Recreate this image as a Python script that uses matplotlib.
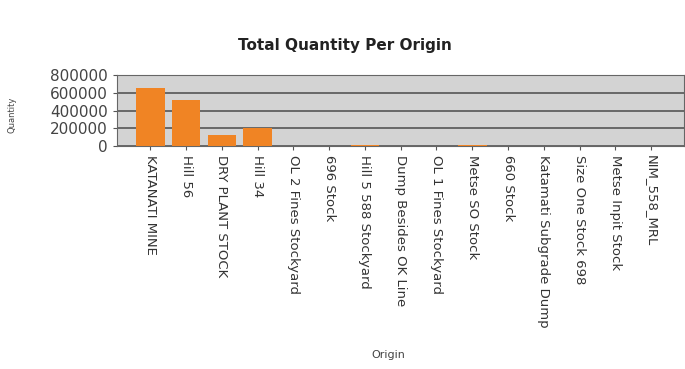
import matplotlib.pyplot as plt
import numpy as np

origins = ['KATANATI MINE', 'Hill 56', 'DRY PLANT STOCK', 'Hill 34',
           'OL 2 Fines Stockyard', '696 Stock', 'Hill 5 588 Stockyard',
           'Dump Besides OK Line', 'OL 1 Fines Stockyard', 'Metse SO Stock',
           '660 Stock', 'Katamati Subgrade Dump', 'Size One Stock 698',
           'Metse Inpit Stock', 'NIM_558_MRL']
quantity = [650000, 518000, 124000, 199000, 0, 0, 9000,
            0, 0, 12000, 0, 0, 0, 0, 0]
yticks = [0, 200000, 400000, 600000, 800000]

fig = plt.figure(figsize=(6.85, 3.69), dpi=100)
ax = fig.add_axes([0.171, 0.604, 0.828, 0.193])
ax.set_facecolor('#d3d3d3')

x = np.arange(len(origins))
ax.bar(x, quantity, width=0.8, color='#f08424', zorder=3)

ax.set_xlim(-0.93, len(origins) - 0.07)
ax.set_ylim(0, 800000)
ax.set_yticks(yticks)
ax.set_yticklabels([str(v) for v in yticks], fontsize=11, color='#444444')
ax.yaxis.grid(True, color='#555555', lw=1.2, zorder=1)
ax.set_xticks(x)
ax.set_xticklabels(origins, rotation=270, fontsize=9.5, color='#333333')
ax.tick_params(axis='both', length=3, color='#555555')
for s in ax.spines.values():
    s.set_color('#666666')

fig.text(0.018, 0.69, 'Quantity', rotation=90, ha='center', va='center',
         fontsize=6, color='#444444')
fig.text(0.504, 0.878, 'Total Quantity Per Origin', ha='center', va='center',
         fontsize=11, fontweight='bold', color='#222222')
fig.text(0.567, 0.038, 'Origin', ha='center', va='center', fontsize=8,
         color='#444444')

fig.savefig('out.png', dpi=100)
